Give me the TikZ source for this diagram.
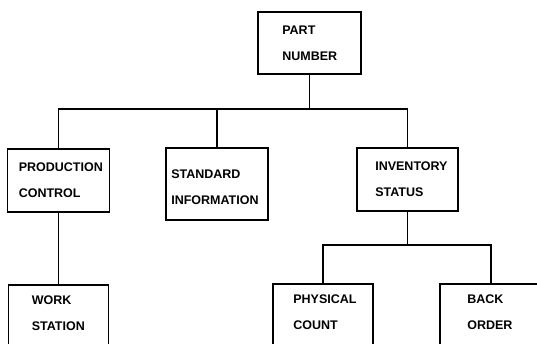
\documentclass[tikz,border=0pt]{standalone}
\usepackage{fontspec}
\setmainfont{Liberation Sans}
\begin{document}
\begin{tikzpicture}[x=1pt,y=-1pt,
  tbox/.style={draw, line width=1.8pt, inner sep=0pt, minimum width=#1},
  lbl/.style={anchor=west, align=left, inner sep=0pt, font=\bfseries\fontsize{12.5}{26}\selectfont},
  conn/.style={line width=1.8pt}]
\useasboundingbox (0,0) rectangle (537,344);
\begin{scope}
\clip (0,0) rectangle (537,344);
\node[tbox=103pt, minimum height=62pt] (part) at (309.5,43) {};
\node[tbox=102pt, minimum height=63pt] (prod) at (58.5,180.5) {};
\node[tbox=102pt, minimum height=72pt] (std) at (217,184) {};
\node[tbox=101pt, minimum height=63pt] (inv) at (407.5,179.5) {};
\node[tbox=100pt, minimum height=63pt] (work) at (58.5,316.5) {};
\node[tbox=100pt, minimum height=63pt] (phys) at (323,315.5) {};
\node[tbox=102pt, minimum height=63pt] (back) at (491,315.5) {};

\node[lbl] (partT) at ([xshift=25pt]part.west) {PART\\NUMBER};
\node[lbl] (prodT) at ([xshift=12pt]prod.west) {PRODUCTION\\CONTROL};
\node[lbl] (stdT) at ([xshift=6pt,yshift=-3pt]std.west) {STANDARD\\INFORMATION};
\node[lbl] (invT) at ([xshift=19pt]inv.west) {INVENTORY\\STATUS};
\node[lbl] (workT) at ([xshift=24pt,yshift=3pt]work.west) {WORK\\STATION};
\node[lbl] (physT) at ([xshift=21pt,yshift=3pt]phys.west) {PHYSICAL\\COUNT};
\node[lbl] (backT) at ([xshift=28pt,yshift=3pt]back.west) {BACK\\ORDER};

\draw[conn] (part.south) -- ++(0,34) -| (prod.north);
\draw[conn] (part.south) -- ++(0,34) -| (std.north);
\draw[conn] (part.south) -- ++(0,34) -| (inv.north);
\draw[conn] (prod.south) -- (work.north);
\draw[conn] (inv.south) -- ++(0,33) -| (phys.north);
\draw[conn] (inv.south) -- ++(0,33) -| (back.north);
\end{scope}
\end{tikzpicture}
\end{document}
